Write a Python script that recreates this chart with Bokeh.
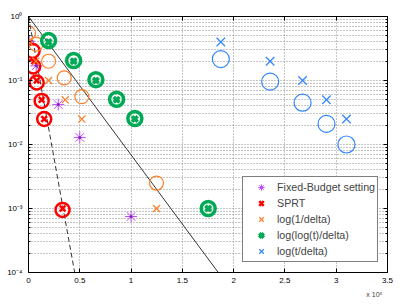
from bokeh.plotting import figure
from bokeh.models import (Range1d, FixedTicker, LinearAxis, LogAxis, Legend,
                          LegendItem, Title)
from bokeh.embed import file_html
from bokeh.resources import INLINE

# ---------------- data (x = number of samples, y = delta / error) ----------
x_ticks = [0, 50000, 100000, 150000, 200000, 250000, 300000, 350000]
x_tick_labels = ["0", "0.5", "1", "1.5", "2", "2.5", "3", "3.5"]
y_ticks = [1e-4, 1e-3, 1e-2, 1e-1, 1.0]
y_tick_labels = ["10\u207b\u2074", "10\u207b\u00b3", "10\u207b\u00b2", "10\u207b\u00b9", "10\u2070"]
x_scale_label = "x 10\u2075"

# Fixed-Budget setting (asterisks)
fb_x = [700, 7500, 29000, 50000, 100000]
fb_y = [0.41, 0.17, 0.042, 0.0129, 0.00075]

# SPRT: crosses (delta) and circles (empirical error)
sprt_x = [700, 5600, 8000, 12800, 15300, 33200]
sprt_delta = [0.4, 0.2, 0.1, 0.05, 0.025, 0.001]
sprt_cx = [4000, 4600, 8000, 12800, 15300, 33200]
sprt_err = [0.29, 0.166, 0.093, 0.048, 0.025, 0.00095]

# log(1/delta)
inv_x = [500, 7200, 19600, 35800, 52000, 124800]
inv_delta = [0.4, 0.2, 0.1, 0.05, 0.025, 0.001]
inv_cx = [0, 7200, 19600, 34800, 52000, 124800]
inv_err = [0.55, 0.37, 0.2, 0.11, 0.056, 0.0025]

# log(log(t)/delta)
ll_x = [19600, 44000, 65700, 85900, 103700, 175200]
ll_delta = [0.4, 0.2, 0.1, 0.05, 0.025, 0.001]
ll_err = [0.42, 0.205, 0.103, 0.051, 0.0255, 0.001]

# log(t/delta)
lt_x = [187500, 235600, 267200, 290500, 310000]
lt_delta = [0.4, 0.2, 0.1, 0.05, 0.025]
lt_err = [0.216, 0.096, 0.045, 0.021, 0.01]

# reference lines
solid_x = [0, 185000]
solid_y = [1.0, 1e-4]
dash_x = [0, 45000]
dash_y = [1.0, 1e-4]

# ---------------- styling ----------------
PURPLE = "#bf4dff"
RED = "#ff0000"
ORANGE = "#ff7f27"
GREEN = "#00aa55"
BLUE = "#2f85ff"
FONT = "Liberation Sans"

p = figure(width=407, height=307, y_axis_type="log",
           x_range=Range1d(0, 350000), y_range=Range1d(1e-4, 1.0),
           output_backend="svg", toolbar_location=None,
           min_border_left=28, min_border_right=20,
           min_border_top=16, min_border_bottom=35)
p.outline_line_color = "black"
p.outline_line_alpha = 1.0
p.background_fill_color = "white"
p.border_fill_color = "white"

y_minor = [m * d for d in y_ticks[:-1] for m in range(2, 10)]

xt = FixedTicker(ticks=x_ticks, minor_ticks=[])
yt = FixedTicker(ticks=y_ticks, minor_ticks=y_minor)


def style_axis(ax):
    ax.axis_line_color = "black"
    ax.major_tick_line_color = "black"
    ax.minor_tick_line_color = "black"
    ax.major_tick_in = 4
    ax.major_tick_out = 0
    ax.minor_tick_in = 2
    ax.minor_tick_out = 0
    ax.major_label_text_font = FONT
    ax.major_label_text_font_size = "8px"
    ax.major_label_text_color = "black"


xa = p.xaxis[0]
xa.ticker = xt
xa.major_label_overrides = dict(zip(x_ticks, x_tick_labels))
xa.major_label_standoff = 5
style_axis(xa)

ya = p.yaxis[0]
ya.ticker = yt
ya.major_label_overrides = dict(zip(y_ticks, y_tick_labels))
ya.major_label_standoff = 6
style_axis(ya)

top = LinearAxis(ticker=xt, major_label_overrides={t: "" for t in x_ticks},
                 major_label_standoff=0)
style_axis(top)
p.add_layout(top, "above")
right = LogAxis(ticker=yt, major_label_overrides={t: "" for t in y_ticks},
                major_label_standoff=0)
style_axis(right)
p.add_layout(right, "right")

for g in (p.xgrid[0], p.ygrid[0]):
    g.grid_line_color = "#8c8c8c"
    g.grid_line_dash = "1 2"
    g.grid_line_width = 1
p.ygrid[0].minor_grid_line_color = "#8c8c8c"
p.ygrid[0].minor_grid_line_dash = "1 2"

p.add_layout(Title(text=x_scale_label, align="right", text_font=FONT,
                   text_font_size="7px", text_font_style="normal",
                   standoff=7, offset=5), "below")

# reference lines
p.line(solid_x, solid_y, line_color="black", line_width=0.8)
p.line(dash_x, dash_y, line_color="black", line_width=0.8, line_dash="5 3")

# markers
r_fb = p.scatter(fb_x, fb_y, marker="asterisk", size=12, line_color=PURPLE, line_width=1)
p.scatter(fb_x, fb_y, marker="circle", size=3, fill_color="#8a20c0", line_color=None)

r_sprt = p.scatter(sprt_x, sprt_delta, marker="x", size=8, line_color=RED, line_width=2.5)
p.scatter(sprt_cx, sprt_err, marker="circle", size=14, fill_color=None,
          line_color=RED, line_width=2.5)

r_inv = p.scatter(inv_x, inv_delta, marker="x", size=10, line_color=ORANGE, line_width=1.2)
p.scatter(inv_cx, inv_err, marker="circle", size=14, fill_color=None,
          line_color=ORANGE, line_width=1.2)

r_ll = p.scatter(ll_x, ll_delta, marker="x", size=8, line_color=GREEN, line_width=3.5)
p.scatter(ll_x, ll_err, marker="circle", size=14, fill_color=None,
          line_color=GREEN, line_width=3.5)

r_lt = p.scatter(lt_x, lt_delta, marker="x", size=12, line_color=BLUE, line_width=1.2)
p.scatter(lt_x, lt_err, marker="circle", size=17, fill_color=None,
          line_color=BLUE, line_width=1.2)

legend = Legend(items=[
    LegendItem(label="Fixed-Budget setting", renderers=[r_fb]),
    LegendItem(label="SPRT", renderers=[r_sprt]),
    LegendItem(label="log(1/delta)", renderers=[r_inv]),
    LegendItem(label="log(log(t)/delta)", renderers=[r_ll]),
    LegendItem(label="log(t/delta)", renderers=[r_lt]),
], location=(214, 10))
legend.border_line_color = "black"
legend.border_line_width = 1
legend.background_fill_color = "white"
legend.background_fill_alpha = 1.0
legend.label_text_font = FONT
legend.label_text_font_size = "10.7px"
legend.padding = 2
legend.spacing = 0
legend.glyph_height = 16
legend.glyph_width = 32
legend.label_height = 16
legend.label_standoff = 0
legend.margin = 0
p.add_layout(legend)

open("out.html", "w").write(file_html(p, INLINE))
